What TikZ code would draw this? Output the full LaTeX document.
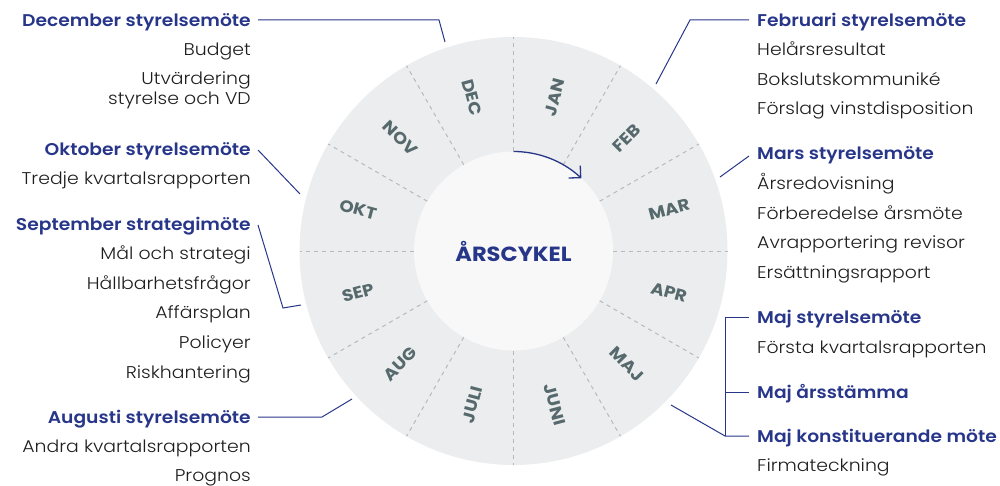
\documentclass[tikz,border=0pt]{standalone}
\usepackage{fontspec}
\setmainfont{Poppins}
\newfontfamily\lightfont{Poppins Light}[FakeStretch=1.11]
\newfontfamily\semifont{Poppins SemiBold}[FakeStretch=1.1]
\newfontfamily\heavyfont{Poppins Bold}[FakeStretch=1.1]
\usetikzlibrary{arrows.meta}
\definecolor{navy}{HTML}{28368A}
\definecolor{ringc}{HTML}{ECEDEE}
\definecolor{hubc}{HTML}{F8F8F9}
\definecolor{dashc}{HTML}{B8B9BB}
\definecolor{monthc}{HTML}{56696D}
\definecolor{bodyc}{HTML}{1E1E1E}
\begin{document}
\begin{tikzpicture}[x=1pt,y=1pt,
 txt/.style={inner sep=0pt, text height=12pt, text depth=0pt},
 head/.style={txt, font=\semifont\fontsize{17}{20}\selectfont, text=navy},
 item/.style={txt, font=\lightfont\fontsize{17}{20}\selectfont, text=bodyc},
 lft/.style={anchor=east},
 rgt/.style={anchor=west},
 mon/.style={inner sep=0pt, font=\heavyfont\fontsize{16.5}{18}\selectfont, text=monthc},
 link/.style={draw=navy, line width=1pt},
 divider/.style={draw=dashc, line width=1pt, dash pattern=on 4pt off 4pt}]
\useasboundingbox (0,0) rectangle (1000,-486);
\coordinate (C) at (513.5,-251);
% wheel
\fill[ringc] (C) circle (214pt);
\fill[hubc] (C) circle (99.5pt);
\foreach \a in {0,30,...,330}
  \draw[divider, shift={(C)}] (\a:99.5) -- (\a:214);
% months
\node[mon, rotate=75]  (jan) at ([shift={(75:159)}]C) {JAN};
\node[mon, rotate=45]  (feb) at ([shift={(45:160)}]C) {FEB};
\node[mon, rotate=15]  (mar) at ([shift={(15:161)}]C) {MAR};
\node[mon, rotate=-15] (apr) at ([shift={(-15:161)}]C) {APR};
\node[mon, rotate=-45] (maj) at ([shift={(-45:160)}]C) {MAJ};
\node[mon, rotate=-75] (jun) at ([shift={(-75:159)}]C) {JUNI};
\node[mon, rotate=75]  (jul) at ([shift={(-105:159)}]C) {JULI};
\node[mon, rotate=45]  (aug) at ([shift={(-135:160)}]C) {AUG};
\node[mon, rotate=15]  (sep) at ([shift={(-165:161)}]C) {SEP};
\node[mon, rotate=-15] (okt) at ([shift={(165:161)}]C) {OKT};
\node[mon, rotate=-45] (nov) at ([shift={(135:160)}]C) {NOV};
\node[mon, rotate=-75] (dec) at ([shift={(105:159)}]C) {DEC};
% hub
\node[inner sep=0pt, font=\heavyfont\fontsize{20.5}{23}\selectfont, text=navy] (hub) at (C) {ÅRSCYKEL};
\draw[navy, line width=1.3pt, -{Straight Barb[length=8.5pt,width=17pt]}]
  ([shift={(90:99.5)}]C) arc[start angle=90, end angle=47, radius=99.5];
% left texts
\node[head, lft] (decT) at (251,-21) {December styrelsemöte};
\node[item, lft] (decA) at (251,-50) {Budget};
\node[item, lft] (decB1) at (251,-79) {Utvärdering};
\node[item, lft] (decB2) at (251,-99) {styrelse och VD};
\node[head, lft] (oktT) at (251,-150) {Oktober styrelsemöte};
\node[item, lft] (oktA) at (251,-179) {Tredje kvartalsrapporten};
\node[head, lft] (sepT) at (251,-225) {September strategimöte};
\node[item, lft] (sepA) at (251,-253) {Mål och strategi};
\node[item, lft] (sepB) at (251,-283) {Hållbarhetsfrågor};
\node[item, lft] (sepC) at (251,-312) {Affärsplan};
\node[item, lft] (sepD) at (251,-342) {Policyer};
\node[item, lft] (sepE) at (251,-372) {Riskhantering};
\node[head, lft] (augT) at (251,-417) {Augusti styrelsemöte};
\node[item, lft] (augA) at (251,-446) {Andra kvartalsrapporten};
\node[item, lft] (augB) at (251,-475) {Prognos};
% right texts
\node[head, rgt] (febT) at (757,-21) {Februari styrelsemöte};
\node[item, rgt] (febA) at (757,-50) {Helårsresultat};
\node[item, rgt] (febB) at (757,-80) {Bokslutskommuniké};
\node[item, rgt] (febC) at (757,-109) {Förslag vinstdisposition};
\node[head, rgt] (marT) at (757,-154) {Mars styrelsemöte};
\node[item, rgt] (marA) at (757,-184) {Årsredovisning};
\node[item, rgt] (marB) at (757,-213) {Förberedelse årsmöte};
\node[item, rgt] (marC) at (757,-242) {Avrapportering revisor};
\node[item, rgt] (marD) at (757,-272) {Ersättningsrapport};
\node[head, rgt] (majT) at (757,-317) {Maj styrelsemöte};
\node[item, rgt] (majA) at (757,-347) {Första kvartalsrapporten};
\node[head, rgt] (arsT) at (757,-392) {Maj årsstämma};
\node[head, rgt] (konT) at (757,-436) {Maj konstituerande möte};
\node[item, rgt] (konA) at (757,-465) {Firmateckning};
% connector points
\coordinate (decK) at (439,-20);
\coordinate (decE) at (445,-42);
\coordinate (oktE) at (300,-194);
\coordinate (sepK) at (283,-308);
\coordinate (sepX) at (301,-305);
\coordinate (augK) at (322,-417);
\coordinate (augE) at (352,-399);
\coordinate (febK) at (690,-20);
\coordinate (febE) at (656,-84);
\coordinate (marE) at (720,-177);
\coordinate (majK) at (725,-436);
\coordinate (majE) at (671,-405);
% connectors
\draw[link] ([xshift=7pt,yshift=1pt]decT.east) -- (decK) -- (decE);
\draw[link] ([xshift=7pt]oktT.east) -- (oktE);
\draw[link] ([xshift=7pt]sepT.east) -- (sepK) -- (sepX);
\draw[link] ([xshift=7pt]augT.east) -- (augK) -- (augE);
\draw[link] ([xshift=-8pt,yshift=1pt]febT.west) -- (febK) -- (febE);
\draw[link] ([xshift=-8pt,yshift=-2pt]marT.west) -- (marE);
\draw[link] (majE) -- (majK) -- ([xshift=-8pt]konT.west);
\draw[link] ([xshift=-8pt]majT.west) -- (majT.west -| majK) -- (majK);
\draw[link] ([xshift=-8pt]arsT.west) -- (arsT.west -| majK);
\end{tikzpicture}
\end{document}
